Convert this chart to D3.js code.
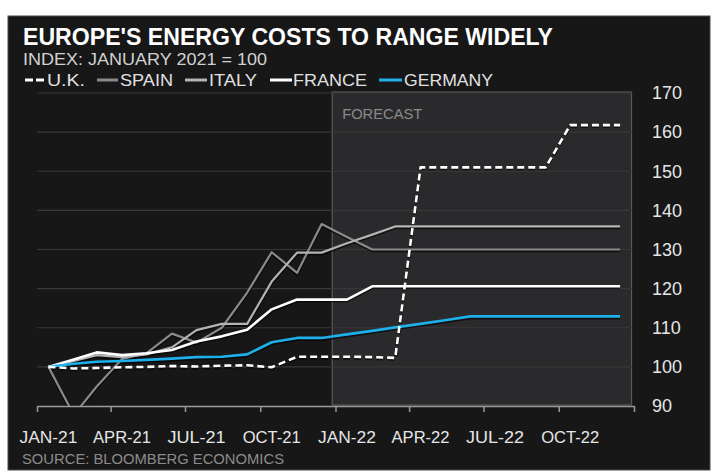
<!DOCTYPE html>
<html>
<head>
<meta charset="utf-8">
<script src="https://cdn.jsdelivr.net/npm/d3@7"></script>
<style>
  body { margin: 0; background: #fff; }
  svg { display: block; }
</style>
</head>
<body>
<div id="chart"></div>
<script>
// monthly index values, January 2021 = 100
const months = ["2021-01","2021-02","2021-03","2021-04","2021-05","2021-06","2021-07","2021-08","2021-09","2021-10","2021-11","2021-12",
                "2022-01","2022-02","2022-03","2022-04","2022-05","2022-06","2022-07","2022-08","2022-09","2022-10","2022-11","2022-12"];
const ukValues      = [100, 99.6, 99.7, 99.9, 100, 100.2, 100.1, 100.3, 100.4, 99.9, 102.6, 102.6, 102.6, 102.5, 102.3, 151, 151, 151, 151, 151, 151, 161.8, 161.8, 161.8];
const spainValues   = [100, 87.7, 95.0, 102.0, 103.5, 108.5, 106.2, 110.0, 119.0, 129.3, 124.0, 136.5, 133.2, 130, 130, 130, 130, 130, 130, 130, 130, 130, 130, 130];
const italyValues   = [100, 101.5, 103.0, 102.5, 103.2, 105.0, 109.4, 111.0, 111.0, 121.8, 129.2, 129.2, 131.6, 133.8, 135.9, 135.9, 135.9, 135.9, 135.9, 135.9, 135.9, 135.9, 135.9, 135.9];
const franceValues  = [100, 101.9, 103.7, 103.0, 103.5, 104.3, 106.5, 107.8, 109.5, 114.7, 117.2, 117.2, 117.2, 120.6, 120.6, 120.6, 120.6, 120.6, 120.6, 120.6, 120.6, 120.6, 120.6, 120.6];
const germanyValues = [100, 100.8, 101.3, 101.5, 101.8, 102.1, 102.5, 102.6, 103.2, 106.3, 107.4, 107.4, 108.3, 109.2, 110.1, 111.0, 111.9, 112.9, 112.9, 112.9, 112.9, 112.9, 112.9, 112.9];

const yTicks = [90, 100, 110, 120, 130, 140, 150, 160, 170];
const xTickMonths = ["2021-01","2021-04","2021-07","2021-10","2022-01","2022-04","2022-07","2022-10"];
const xTickLabels = ["JAN-21","APR-21","JUL-21","OCT-21","JAN-22","APR-22","JUL-22","OCT-22"];
const xTickBounds = ["2021-01","2021-04","2021-07","2021-10","2022-01","2022-04","2022-07","2022-10","2023-01"];

const series = [
    { name: "SPAIN",   values: spainValues,   color: "#8a8a8a", width: 2.2, dash: null },
    { name: "ITALY",   values: italyValues,   color: "#b4b4b4", width: 2.2, dash: null },
    { name: "FRANCE",  values: franceValues,  color: "#ffffff", width: 2.6, dash: null },
    { name: "GERMANY", values: germanyValues, color: "#1db0ea", width: 2.6, dash: null },
    { name: "U.K.",    values: ukValues,      color: "#ffffff", width: 2.6, dash: "7,4" }
];

const legendOrder = ["U.K.", "SPAIN", "ITALY", "FRANCE", "GERMANY"];

const W = 720, H = 475;
const font = "'Liberation Sans Narrow', 'Arial Narrow', 'Liberation Sans', Arial, sans-serif";

const parse = d3.timeParse("%Y-%m");
const midMonth = s => d3.timeDay.offset(parse(s), 14);

const x = d3.scaleTime()
    .domain([parse("2021-01"), parse("2023-01")])
    .range([37, 634]);
const y = d3.scaleLinear()
    .domain([90, 170])
    .range([406, 93]);

const svg = d3.select("#chart").append("svg")
    .attr("width", W)
    .attr("height", H);

// dark panel
svg.append("rect")
    .attr("x", 8).attr("y", 16)
    .attr("width", 702).attr("height", 454)
    .attr("fill", "#171717")
    .attr("stroke", "#4a4a4a")
    .attr("stroke-width", 1);

// forecast band
svg.append("rect")
    .attr("x", x(new Date(2021, 11, 28)))
    .attr("y", y(170) - 1)
    .attr("width", x(new Date(2022, 11, 29)) - x(new Date(2021, 11, 28)))
    .attr("height", y(90) - y(170))
    .attr("fill", "#2a2a2c")
    .attr("stroke", "#5a5a5c")
    .attr("stroke-width", 1.2);

svg.append("text")
    .attr("x", x(new Date(2021, 11, 28)) + 10)
    .attr("y", 119)
    .attr("textLength", 80)
    .attr("lengthAdjust", "spacingAndGlyphs")
    .style("font-family", font)
    .style("font-size", "14px")
    .style("fill", "#8a8a8a")
    .text("FORECAST");

// gridlines
svg.append("g")
    .selectAll("line")
    .data(yTicks.filter(d => d > 90))
    .join("line")
    .attr("x1", 37).attr("x2", 632)
    .attr("y1", d => y(d)).attr("y2", d => y(d))
    .attr("stroke", "#383838")
    .attr("stroke-width", 1.2);

// bottom axis
const xAxis = d3.axisBottom(x)
    .tickValues(xTickBounds.map(parse))
    .tickSize(6)
    .tickSizeOuter(0)
    .tickFormat("");
const gx = svg.append("g")
    .attr("transform", `translate(0, ${y(90)})`)
    .call(xAxis);
gx.select(".domain").attr("stroke", "#9a9a9a").attr("stroke-width", 1.5);
gx.selectAll(".tick line").attr("stroke", "#9a9a9a").attr("stroke-width", 1.5);

svg.append("g")
    .selectAll("text")
    .data(xTickMonths)
    .join("text")
    .attr("x", d => x(midMonth(d)))
    .attr("y", 443)
    .attr("text-anchor", "middle")
    .attr("textLength", 58)
    .attr("lengthAdjust", "spacingAndGlyphs")
    .style("font-family", font)
    .style("font-size", "17px")
    .style("fill", "#e6e6e6")
    .text((d, i) => xTickLabels[i]);

// right axis labels
const yAxis = d3.axisRight(y)
    .tickValues(yTicks)
    .tickSize(0)
    .tickPadding(0)
    .tickFormat(d3.format("d"));
const gy = svg.append("g")
    .attr("transform", "translate(652, 0)")
    .call(yAxis);
gy.select(".domain").remove();
gy.selectAll("text")
    .style("font-family", font)
    .style("font-size", "18px")
    .style("fill", "#e6e6e6");

// lines
svg.append("clipPath").attr("id", "plot-clip")
    .append("rect")
    .attr("x", 30).attr("y", y(170))
    .attr("width", 610).attr("height", y(90) - y(170));

const line = d3.line()
    .x((d, i) => x(midMonth(months[i])))
    .y(d => y(d));

const lines = svg.append("g").attr("clip-path", "url(#plot-clip)");

lines.selectAll("path.shadow")
    .data(series)
    .join("path")
    .attr("class", "shadow")
    .attr("d", d => line(d.values))
    .attr("transform", "translate(0, 1.2)")
    .attr("fill", "none")
    .attr("stroke", "#000")
    .attr("stroke-opacity", 0.6)
    .attr("stroke-width", d => d.width + 1)
    .attr("stroke-dasharray", d => d.dash);

lines.selectAll("path.series")
    .data(series)
    .join("path")
    .attr("class", "series")
    .attr("d", d => line(d.values))
    .attr("fill", "none")
    .attr("stroke", d => d.color)
    .attr("stroke-width", d => d.width)
    .attr("stroke-dasharray", d => d.dash)
    .attr("stroke-linejoin", "round");

// titles
svg.append("text")
    .attr("x", 23).attr("y", 45)
    .attr("textLength", 530)
    .attr("lengthAdjust", "spacingAndGlyphs")
    .style("font-family", font)
    .style("font-size", "23px")
    .style("font-weight", "700")
    .style("fill", "#ffffff")
    .text("EUROPE'S ENERGY COSTS TO RANGE WIDELY");

svg.append("text")
    .attr("x", 23).attr("y", 65)
    .attr("textLength", 244)
    .attr("lengthAdjust", "spacingAndGlyphs")
    .style("font-family", font)
    .style("font-size", "17px")
    .style("fill", "#d2d2d2")
    .text("INDEX: JANUARY 2021 = 100");

// legend
const legendItems = [
    { name: "U.K.",    lx: 25,  lw: 20, tx: 47,  tw: 38 },
    { name: "SPAIN",   lx: 97,  lw: 21, tx: 120, tw: 53 },
    { name: "ITALY",   lx: 185, lw: 22, tx: 209, tw: 48 },
    { name: "FRANCE",  lx: 270, lw: 22, tx: 293, tw: 74 },
    { name: "GERMANY", lx: 379, lw: 23, tx: 404, tw: 89 }
];
const legend = svg.append("g");
const li = legend.selectAll("g")
    .data(legendItems.filter(d => legendOrder.includes(d.name)))
    .join("g");
li.append("line")
    .attr("x1", d => d.lx).attr("x2", d => d.lx + d.lw)
    .attr("y1", 80).attr("y2", 80)
    .attr("stroke", d => series.find(s => s.name === d.name).color)
    .attr("stroke-width", 3)
    .attr("stroke-dasharray", d => d.name === "U.K." ? "8,3" : null);
li.append("text")
    .attr("x", d => d.tx).attr("y", 86)
    .attr("textLength", d => d.tw)
    .attr("lengthAdjust", "spacingAndGlyphs")
    .style("font-family", font)
    .style("font-size", "17px")
    .style("fill", "#e0e0e0")
    .text(d => d.name);

// source
svg.append("text")
    .attr("x", 22).attr("y", 464)
    .attr("textLength", 262)
    .attr("lengthAdjust", "spacingAndGlyphs")
    .style("font-family", font)
    .style("font-size", "15px")
    .style("fill", "#8c8c8c")
    .text("SOURCE: BLOOMBERG ECONOMICS");
</script>
</body>
</html>
